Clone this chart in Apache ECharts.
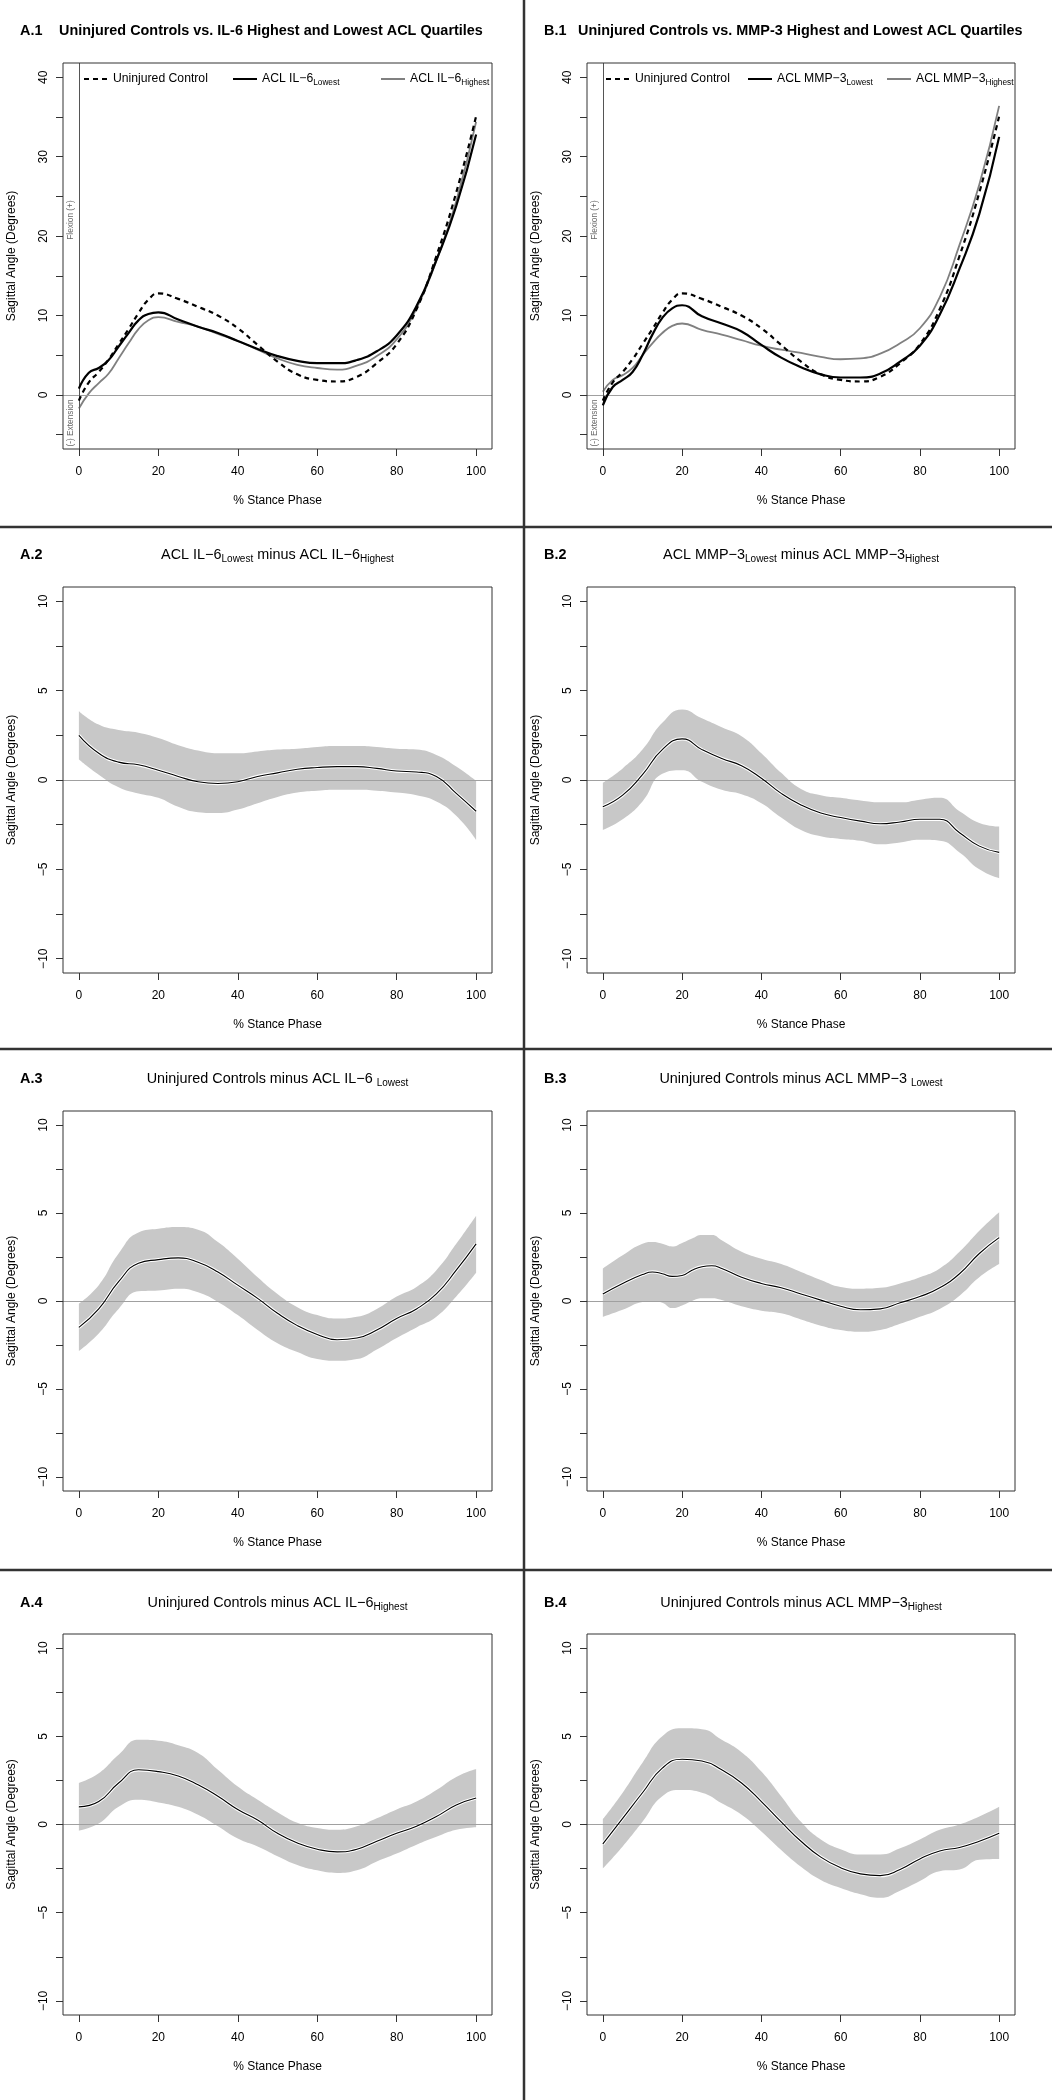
<!DOCTYPE html>
<html><head><meta charset="utf-8">
<script src="https://cdn.jsdelivr.net/npm/echarts@6/dist/echarts.min.js"></script>
<style>html,body{margin:0;padding:0;background:#fff}#c{width:1052px;height:2100px}</style>
</head><body><div id="c"></div>
<script>
// ---------- DATA ----------
const stanceTop = [0,2.5,5,7.5,10,12.5,15,17.5,20,25,30,35,40,45,50,55,60,65,70,75,80,85,90,95,100];
const uninjuredControl = [-0.7,1.6,2.9,4.5,6.4,8.3,10.3,12.0,12.8,12.1,11.1,10.0,8.4,6.3,4.2,2.6,1.9,1.7,2.3,4.0,6.4,10.8,17.5,25.5,35.1];
const il6Lowest  = [0.8,2.8,3.4,4.4,6.1,7.8,9.4,10.2,10.4,9.5,8.6,7.8,6.8,5.8,4.9,4.3,4.0,4.0,4.4,5.5,7.5,11.2,17.0,23.8,32.8];
const il6Highest = [-1.7,0.2,1.5,2.7,4.6,6.5,8.3,9.4,9.8,9.2,8.6,7.7,6.8,5.7,4.6,3.8,3.4,3.2,3.7,4.9,7.0,10.9,16.9,24.4,34.4];
const mmp3Lowest  = [-1.3,1.0,1.9,2.9,5.0,7.6,9.7,10.9,11.3,9.9,9.0,8.0,6.3,4.7,3.5,2.6,2.2,2.2,2.7,4.2,6.2,10.1,15.9,22.8,32.5];
const mmp3Highest = [0.4,1.9,2.5,3.4,5.0,6.5,7.8,8.7,9.0,8.2,7.6,6.9,6.2,5.7,5.3,4.8,4.5,4.6,5.2,6.5,8.4,12.3,18.9,26.5,36.4];

const stanceDiff = [0,5,10,15,20,25,30,35,40,45,50,55,60,65,70,75,80,85,90,95,100];
// A.2 ACL IL-6 Lowest minus ACL IL-6 Highest
const a2Mean  = [2.5,1.5,1.0,0.85,0.55,0.2,-0.1,-0.2,-0.1,0.2,0.4,0.6,0.7,0.75,0.75,0.65,0.5,0.45,0.2,-0.75,-1.75];
const a2Upper = [3.85,3.1,2.8,2.65,2.35,1.95,1.65,1.5,1.5,1.6,1.7,1.75,1.85,1.9,1.9,1.85,1.75,1.7,1.4,0.75,-0.05];
const a2Lower = [1.15,0.3,-0.4,-0.75,-1.0,-1.5,-1.8,-1.85,-1.65,-1.3,-0.95,-0.7,-0.6,-0.55,-0.55,-0.6,-0.7,-0.85,-1.2,-2.0,-3.35];
// B.2 ACL MMP-3 Lowest minus ACL MMP-3 Highest
const b2Mean  = [-1.5,-0.85,0.3,1.7,2.3,1.7,1.2,0.8,0.1,-0.75,-1.4,-1.85,-2.1,-2.3,-2.45,-2.35,-2.2,-2.2,-2.95,-3.7,-4.05];
const b2Upper = [-0.15,0.65,1.7,3.2,3.95,3.45,2.95,2.45,1.5,0.4,-0.5,-0.85,-1.0,-1.15,-1.25,-1.25,-1.1,-1.0,-1.75,-2.4,-2.6];
const b2Lower = [-2.8,-2.2,-1.2,0.35,0.55,-0.1,-0.55,-0.8,-1.3,-2.1,-2.8,-3.15,-3.3,-3.4,-3.6,-3.5,-3.35,-3.4,-4.05,-5.0,-5.5];
// A.3 Uninjured Controls minus ACL IL-6 Lowest
const a3Mean  = [-1.5,-0.45,1.1,2.15,2.35,2.45,2.2,1.65,0.9,0.15,-0.7,-1.4,-1.9,-2.2,-2.1,-1.65,-1.0,-0.45,0.4,1.75,3.25];
const a3Upper = [-0.15,0.9,2.7,3.9,4.1,4.2,4.05,3.35,2.4,1.35,0.4,-0.35,-0.8,-1.0,-0.9,-0.45,0.25,0.8,1.75,3.25,4.85];
const a3Lower = [-2.85,-1.85,-0.45,0.55,0.6,0.7,0.5,-0.05,-0.8,-1.65,-2.4,-2.9,-3.3,-3.4,-3.3,-2.75,-2.1,-1.5,-0.9,0.25,1.6];
// B.3 Uninjured Controls minus ACL MMP-3 Lowest
const stanceB3 = [0,5,10,12.5,15,17.5,20,22.5,25,27.5,30,35,40,45,50,55,60,65,70,75,80,85,90,95,100];
const b3Mean  = [0.4,1.0,1.5,1.65,1.55,1.4,1.45,1.75,1.95,2.0,1.85,1.35,1.0,0.75,0.4,0.05,-0.3,-0.5,-0.45,-0.1,0.25,0.75,1.55,2.7,3.6];
const b3Upper = [1.85,2.6,3.25,3.35,3.25,3.1,3.3,3.55,3.75,3.75,3.45,2.8,2.4,2.1,1.65,1.2,0.8,0.7,0.75,1.0,1.35,1.85,2.8,4.0,5.05];
const b3Lower = [-0.9,-0.5,-0.05,0.0,-0.1,-0.4,-0.25,0.0,0.15,0.15,0.05,-0.3,-0.55,-0.7,-1.05,-1.4,-1.65,-1.75,-1.65,-1.3,-0.9,-0.45,0.3,1.35,2.1];
// A.4 Uninjured Controls minus ACL IL-6 Highest
const a4Mean  = [1.0,1.3,2.35,3.1,3.0,2.75,2.25,1.6,0.85,0.25,-0.5,-1.05,-1.4,-1.55,-1.4,-0.95,-0.5,-0.1,0.45,1.1,1.5];
const a4Upper = [2.35,2.9,3.95,4.8,4.75,4.5,4.05,3.1,2.15,1.4,0.7,0.1,-0.2,-0.3,-0.1,0.35,0.85,1.3,1.95,2.7,3.15];
const a4Lower = [-0.35,0.05,1.0,1.4,1.25,1.0,0.55,-0.1,-0.8,-1.25,-1.8,-2.3,-2.6,-2.75,-2.6,-2.1,-1.65,-1.15,-0.7,-0.3,-0.15];
// B.4 Uninjured Controls minus ACL MMP-3 Highest
const b4Mean  = [-1.1,0.35,1.8,3.2,3.7,3.6,3.1,2.35,1.3,0.15,-0.95,-1.85,-2.45,-2.8,-2.9,-2.55,-1.95,-1.5,-1.3,-0.95,-0.5];
const b4Upper = [0.3,1.8,3.5,5.0,5.45,5.4,4.8,4.1,3.0,1.6,0.15,-0.85,-1.4,-1.7,-1.7,-1.35,-0.85,-0.3,0.0,0.45,1.0];
const b4Lower = [-2.5,-1.25,0.15,1.6,1.95,1.8,1.2,0.55,-0.4,-1.45,-2.4,-3.15,-3.6,-3.95,-4.15,-3.75,-3.2,-2.65,-2.55,-2.0,-1.95];

const xTickValues = [0,20,40,60,80,100];
const yTopTicks = [-5,0,5,10,15,20,25,30,35,40];
const yTopLabels = [0,10,20,30,40];
const yDiffTicks = [-10,-7.5,-5,-2.5,0,2.5,5,7.5,10];
const yDiffLabels = [-10,-5,0,5,10];

// ---------- LAYOUT ----------
const FONT = "'Liberation Sans', Arial, Helvetica, sans-serif";
const colLeft = [63, 587], colWidth = [429, 428];
const rowTop = [63, 587, 1111, 1634], rowHeight = [386, 386, 380, 381];
const grids = [], xAxes = [], yAxes = [], series = [], legends = [], graphics = [];
const pair = (xs, ys) => xs.map((x, i) => [x, ys[i]]);
const minusFmt = v => String(v).replace('-', '\u2212');

function addGrid(col, row, yMin, yMax, yTicks, yLabels) {
  const gi = grids.length;
  grids.push({left: colLeft[col], top: rowTop[row], width: colWidth[col], height: rowHeight[row],
    show: true, borderColor: '#333', borderWidth: 1, backgroundColor: 'transparent', z: 10,
    containLabel: false, outerBoundsMode: 'none'});
  xAxes.push({type: 'value', gridIndex: gi, min: -4, max: 104,
    axisLine: {show: false, onZero: false}, splitLine: {show: false},
    axisTick: {show: true, customValues: xTickValues, length: 7, lineStyle: {color: '#333', width: 1}},
    axisLabel: {customValues: xTickValues, margin: 17, fontSize: 12, color: '#000', fontFamily: FONT},
    name: '% Stance Phase', nameLocation: 'middle', nameGap: 46,
    nameTextStyle: {fontSize: 12, color: '#000', fontFamily: FONT}});
  yAxes.push({type: 'value', gridIndex: gi, min: yMin, max: yMax,
    axisLine: {show: false, onZero: false}, splitLine: {show: false},
    axisTick: {show: true, customValues: yTicks, length: 7, lineStyle: {color: '#333', width: 1}},
    axisLabel: {customValues: yLabels, rotate: 90, margin: 13, fontSize: 12, color: '#000', fontFamily: FONT, formatter: minusFmt},
    name: 'Sagittal Angle (Degrees)', nameLocation: 'middle', nameGap: 45,
    nameTextStyle: {fontSize: 12, color: '#000', fontFamily: FONT}});
  return gi;
}

function zeroLine(gi, withVertical) {
  const data = [{yAxis: 0, lineStyle: {color: '#a0a0a0', width: 1.2, type: 'solid'}}];
  if (withVertical) data.push({xAxis: 0, lineStyle: {color: '#555', width: 1, type: 'solid'}});
  series.push({type: 'line', xAxisIndex: gi, yAxisIndex: gi, data: [], silent: true, z: 3,
    markLine: {silent: true, symbol: 'none', label: {show: false}, animation: false, data: data}});
}

// confidence band: lower limit + (upper - lower) stacked on the value (y) dimension
function addBand(gi, xs, lower, upper, mean) {
  const sid = 'band' + gi;
  series.push({type: 'line', xAxisIndex: gi, yAxisIndex: gi,
    data: xs.map((x, i) => [lower[i], x]), encode: {x: 1, y: 0},
    stack: sid, stackStrategy: 'all',
    smooth: 0.5, symbol: 'none', lineStyle: {width: 0, opacity: 0}, silent: true, z: 1});
  series.push({type: 'line', xAxisIndex: gi, yAxisIndex: gi,
    data: xs.map((x, i) => [upper[i] - lower[i], x]), encode: {x: 1, y: 0},
    stack: sid, stackStrategy: 'all',
    smooth: 0.5, symbol: 'none', lineStyle: {width: 0, opacity: 0},
    areaStyle: {color: '#c8c8c8', opacity: 1}, silent: true, z: 2});
  zeroLine(gi, false);
  series.push({type: 'line', xAxisIndex: gi, yAxisIndex: gi, data: pair(xs, mean), smooth: 0.5, symbol: 'none',
    lineStyle: {color: '#fff', width: 3.2}, silent: true, z: 4});
  series.push({type: 'line', xAxisIndex: gi, yAxisIndex: gi, data: pair(xs, mean), smooth: 0.5, symbol: 'none',
    lineStyle: {color: '#000', width: 1.1}, silent: true, z: 5});
}

const legendText = {
  ctrlA: '{m|Uninjured Control}', ctrlB: '{m|Uninjured Control}',
  il6Lo: '{m|ACL IL\u22126}{s|Lowest}', il6Hi: '{m|ACL IL\u22126}{s|Highest}',
  mmpLo: '{m|ACL MMP\u22123}{s|Lowest}', mmpHi: '{m|ACL MMP\u22123}{s|Highest}'
};
function addTopPanel(col, ctrlName, loName, hiName, lo, hi, legendX) {
  const gi = addGrid(col, 0, -6.8, 41.8, yTopTicks, yTopLabels);
  zeroLine(gi, true);
  series.push({name: hiName, type: 'line', xAxisIndex: gi, yAxisIndex: gi, data: pair(stanceTop, hi), smooth: 0.5, symbol: 'none',
    color: '#808080', lineStyle: {color: '#808080', width: 1.8}, z: 4});
  series.push({name: loName, type: 'line', xAxisIndex: gi, yAxisIndex: gi, data: pair(stanceTop, lo), smooth: 0.5, symbol: 'none',
    color: '#000', lineStyle: {color: '#000', width: 2.2}, z: 5});
  series.push({name: ctrlName, type: 'line', xAxisIndex: gi, yAxisIndex: gi, data: pair(stanceTop, uninjuredControl), smooth: 0.5, symbol: 'none',
    color: '#000', lineStyle: {color: '#000', width: 2.2, type: [5, 4]}, z: 6});
  [ctrlName, loName, hiName].forEach((nm, k) => {
    legends.push({data: [nm], left: legendX[k], top: 73, padding: 0, itemWidth: 24, itemHeight: 12, itemGap: 0, selectedMode: false,
      itemStyle: {color: 'rgba(0,0,0,0)', borderColor: 'rgba(0,0,0,0)', borderWidth: 0, opacity: 0},
      formatter: n => legendText[n],
      textStyle: {fontFamily: FONT, fontSize: 12.2, color: '#000',
        rich: {m: {fontFamily: FONT, fontSize: 12.2, color: '#000'},
               s: {fontFamily: FONT, fontSize: 8.3, color: '#000', padding: [8, 0, 0, 0]}}}});
  });
  const fx = colLeft[col] + 8;
  graphics.push({type: 'text', x: fx, y: 220, rotation: Math.PI / 2,
    style: {text: 'Flexion (+)', font: '8.3px ' + FONT, fill: '#666', align: 'center', verticalAlign: 'middle'}});
  graphics.push({type: 'text', x: fx, y: 423, rotation: Math.PI / 2,
    style: {text: '(-) Extension', font: '8.3px ' + FONT, fill: '#666', align: 'center', verticalAlign: 'middle'}});
}

addTopPanel(0, 'ctrlA', 'il6Lo', 'il6Hi', il6Lowest, il6Highest, [83, 232, 380]);
addTopPanel(1, 'ctrlB', 'mmpLo', 'mmpHi', mmp3Lowest, mmp3Highest, [605, 747, 886]);

addBand(addGrid(0, 1, -10.8, 10.8, yDiffTicks, yDiffLabels), stanceDiff, a2Lower, a2Upper, a2Mean);
addBand(addGrid(1, 1, -10.8, 10.8, yDiffTicks, yDiffLabels), stanceDiff, b2Lower, b2Upper, b2Mean);
addBand(addGrid(0, 2, -10.8, 10.8, yDiffTicks, yDiffLabels), stanceDiff, a3Lower, a3Upper, a3Mean);
addBand(addGrid(1, 2, -10.8, 10.8, yDiffTicks, yDiffLabels), stanceB3, b3Lower, b3Upper, b3Mean);
addBand(addGrid(0, 3, -10.8, 10.8, yDiffTicks, yDiffLabels), stanceDiff, a4Lower, a4Upper, a4Mean);
addBand(addGrid(1, 3, -10.8, 10.8, yDiffTicks, yDiffLabels), stanceDiff, b4Lower, b4Upper, b4Mean);

// ---------- TEXT & SEPARATORS ----------
const richT = {m: {font: '14.4px ' + FONT, fill: '#000'}, s: {font: '10px ' + FONT, fill: '#000', padding: [9, 0, 0, 0]}};
function label(x, y, t) {
  graphics.push({type: 'text', x: x, y: y, style: {text: t, font: 'bold 14.4px ' + FONT, fill: '#000', align: 'left', verticalAlign: 'middle'}});
}
function subtitle(x, y, t) {
  graphics.push({type: 'text', x: x, y: y, style: {text: t, rich: richT, align: 'center', verticalAlign: 'middle'}});
}
label(20, 31, 'A.1'); label(544, 31, 'B.1');
graphics.push({type: 'text', x: 59, y: 31, style: {text: 'Uninjured Controls vs. IL-6 Highest and Lowest ACL Quartiles', font: 'bold 14.4px ' + FONT, fill: '#000', align: 'left', verticalAlign: 'middle'}});
graphics.push({type: 'text', x: 578, y: 31, style: {text: 'Uninjured Controls vs. MMP-3 Highest and Lowest ACL Quartiles', font: 'bold 14.4px ' + FONT, fill: '#000', align: 'left', verticalAlign: 'middle'}});
label(20, 555, 'A.2'); label(544, 555, 'B.2');
subtitle(277.5, 555, '{m|ACL IL\u22126}{s|Lowest}{m| minus ACL IL\u22126}{s|Highest}');
subtitle(801, 555, '{m|ACL MMP\u22123}{s|Lowest}{m| minus ACL MMP\u22123}{s|Highest}');
label(20, 1079, 'A.3'); label(544, 1079, 'B.3');
subtitle(277.5, 1079, '{m|Uninjured Controls minus ACL IL\u22126 }{s|Lowest}');
subtitle(801, 1079, '{m|Uninjured Controls minus ACL MMP\u22123 }{s|Lowest}');
label(20, 1603, 'A.4'); label(544, 1603, 'B.4');
subtitle(277.5, 1603, '{m|Uninjured Controls minus ACL IL\u22126}{s|Highest}');
subtitle(801, 1603, '{m|Uninjured Controls minus ACL MMP\u22123}{s|Highest}');

[527, 1049, 1570].forEach(y => graphics.push({type: 'line', shape: {x1: 0, y1: y, x2: 1052, y2: y}, style: {stroke: '#333', lineWidth: 2.5}}));
graphics.push({type: 'line', shape: {x1: 524, y1: 0, x2: 524, y2: 2100}, style: {stroke: '#333', lineWidth: 2.5}});

const chart = echarts.init(document.getElementById('c'), null, {renderer: 'canvas'});
chart.setOption({
  animation: false, backgroundColor: '#fff',
  grid: grids, xAxis: xAxes, yAxis: yAxes, legend: legends, series: series, graphic: graphics
});
</script></body></html>
